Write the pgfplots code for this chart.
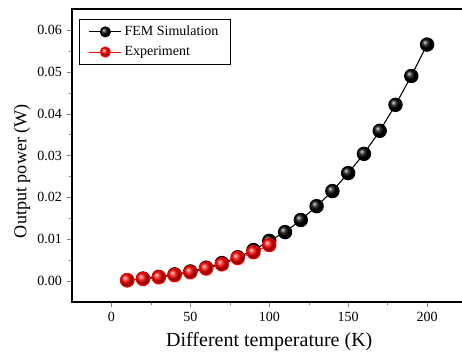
\documentclass[border=0pt]{standalone}
\usepackage{pgfplots}
\pgfplotsset{compat=1.18}
\usepackage{fontspec}
\setmainfont{Liberation Serif}
\begin{document}
\begin{tikzpicture}
\useasboundingbox (0pt,0pt) rectangle (346.5pt,268.5pt);
\begin{axis}[
  at={(54pt,42pt)}, anchor=south west,
  scale only axis, width=295.9pt, height=219.75pt,
  xmin=-25, xmax=225, ymin=-0.005, ymax=0.065,
  xtick={0,50,100,150,200}, ytick={0,0.01,0.02,0.03,0.04,0.05,0.06},
  minor x tick num=1, minor y tick num=1,
  tick align=outside, major tick length=4pt, minor tick length=2.5pt,
  xtick pos=bottom, ytick pos=left,
  /pgf/number format/assume math mode=true,
  yticklabel style={/pgf/number format/fixed,/pgf/number format/fixed zerofill,/pgf/number format/precision=2},
  scaled y ticks=false,
  tick label style={font=\fontsize{10.5}{12}\selectfont},
  xlabel={Different temperature (K)}, ylabel={Output power (W)},
  xlabel style={font=\fontsize{15}{17}\selectfont, yshift=-1pt},
  ylabel style={font=\fontsize{13.6}{16}\selectfont, at={(axis description cs:-0.127,0.447)}, anchor=center},
  axis line style={line width=0.8pt},
  legend style={at={(0.018,0.966)}, anchor=north west, draw=black, line width=0.6pt,
    font=\fontsize{10.5}{12}\selectfont, inner xsep=7pt, inner ysep=3pt, row sep=2.5pt,
    /tikz/every even column/.append style={column sep=2pt}},
  legend image code/.code={\draw[mark repeat=2,mark phase=2,mark size=3.75pt] plot coordinates {(0pt,0pt)(12pt,0pt)(24pt,0pt)};},
  legend cell align=left,
  clip=false,
]
\addplot[black, line width=0.8pt, mark=ball, mark size=5pt, mark options={ball color=black}] coordinates {
(10,0.0002) (20,0.0006) (30,0.0010) (40,0.0016) (50,0.0023) (60,0.0032) (70,0.0043) (80,0.0057)
(90,0.0074) (100,0.0096) (110,0.0117) (120,0.0146) (130,0.0179) (140,0.0215) (150,0.0258)
(160,0.0304) (170,0.0359) (180,0.0421) (190,0.0490) (200,0.0565)};
\addlegendentry{FEM Simulation}
\addplot[red, line width=0.8pt, mark=ball, mark size=5pt, mark options={ball color=red}] coordinates {
(10,0.0002) (20,0.0005) (30,0.0009) (40,0.0014) (50,0.0021) (60,0.0030) (70,0.0040) (80,0.0055)
(90,0.0069) (100,0.0086)};
\addlegendentry{Experiment}
\end{axis}
\end{tikzpicture}
\end{document}
